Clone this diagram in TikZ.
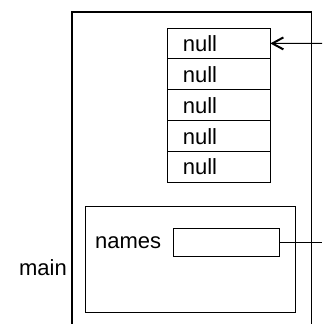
\documentclass[tikz,border=0pt]{standalone}
\usepackage{fontspec}
\setmainfont{Liberation Sans}
\usetikzlibrary{positioning,arrows.meta}

\begin{document}
\begin{tikzpicture}[
        x=1pt, y=-1pt, >={Straight Barb[length=11pt,width=12pt,line width=2pt]},
        every node/.style={font=\fontsize{22}{26}\selectfont},
        cell/.style={draw, line width=1pt, minimum width=103pt, minimum height=30.9pt,
          inner xsep=15.5pt, text width=72pt, align=left, outer sep=0pt},
        ref/.style={draw, line width=1pt, minimum width=105.6pt, minimum height=27.7pt, outer sep=0pt}
      ]
        \useasboundingbox (0,0) rectangle (322,324);
        % stack frame of main
        \draw[line width=1.2pt] (72,324) -- (72,12) -- (311.7,12) -- (311.7,324);
        \draw[line width=1pt] (85.7,206.7) rectangle (295,312.7);
        \node (main) at (43,268) {main};
        % the array
        \node (c1) [cell, anchor=north west] at (167.3,28) {null};
        \node (c2) [cell, below=0pt of c1] {null};
        \node (c3) [cell, below=0pt of c2] {null};
        \node (c4) [cell, below=0pt of c3] {null};
        \node (c5) [cell, below=0pt of c4] {null};
        % the variable
        \node (box) [ref] at (226.5,242.2) {};
        \node (names) [left=9pt of box] {names};
        \coordinate (a) at (322,43.4);
        \coordinate (b) at (322,242.2);
        \draw[->, line width=1pt] (a) -- (c1);
        \draw[line width=1pt] (box) -- (b);
      \end{tikzpicture}
\end{document}
